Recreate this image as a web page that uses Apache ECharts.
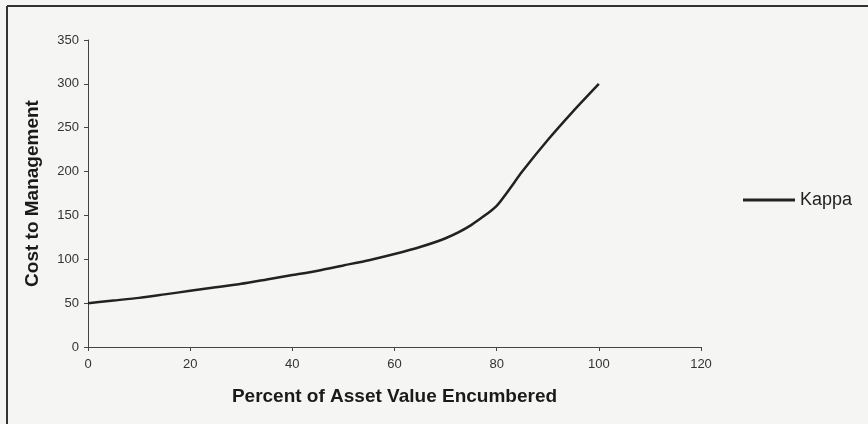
<!DOCTYPE html>
<html>
<head>
<meta charset="utf-8">
<script src="https://cdn.jsdelivr.net/npm/echarts@6/dist/echarts.min.js"></script>
<style>
body { margin: 0; background: #f5f5f3; }
#chart { width: 868px; height: 424px; }
</style>
</head>
<body>
<div id="chart"></div>
<script>
// percent of asset value encumbered
var pct = [0, 5, 10, 15, 20, 25, 30, 35, 40, 45, 50, 55, 60, 65, 70, 75, 80, 85, 90, 95, 100];
// cost to management (Kappa)
var kappa = [50, 53, 56, 60, 64, 68, 72, 77, 82, 87, 93, 99, 106, 114, 124, 139, 161, 200, 236, 269, 300];

var xTicks = [0, 20, 40, 60, 80, 100, 120];
var yTicks = [0, 50, 100, 150, 200, 250, 300, 350];

var pts = [];
for (var i = 0; i < pct.length; i++) {
  pts.push([pct[i], kappa[i]]);
}

var myChart = echarts.init(document.getElementById('chart'));

var option = {
  backgroundColor: '#f5f5f3',
  animation: false,
  textStyle: { fontFamily: 'Liberation Sans, Arial, sans-serif' },
  grid: { left: 88, right: 167, top: 40, bottom: 77 },
  legend: {
    data: ['Kappa'],
    left: 738,
    top: 186,
    itemWidth: 52,
    itemHeight: 3,
    itemGap: 4,
    icon: 'rect',
    textStyle: { fontSize: 18, color: '#222', fontFamily: 'Liberation Sans, Arial, sans-serif' }
  },
  xAxis: {
    type: 'value',
    min: xTicks[0],
    max: xTicks[xTicks.length - 1],
    interval: 20,
    name: 'Percent of Asset Value Encumbered',
    nameLocation: 'middle',
    nameGap: 40,
    nameTextStyle: { fontSize: 19, fontWeight: 'bold', color: '#1a1a1a' },
    axisLine: { lineStyle: { color: '#444', width: 1 } },
    axisTick: { show: true, length: 4, lineStyle: { color: '#444' } },
    axisLabel: { fontSize: 13, color: '#333', margin: 11 },
    splitLine: { show: false }
  },
  yAxis: {
    type: 'value',
    min: yTicks[0],
    max: yTicks[yTicks.length - 1],
    interval: 50,
    name: 'Cost to Management',
    nameLocation: 'middle',
    nameGap: 46,
    nameTextStyle: { fontSize: 19, fontWeight: 'bold', color: '#1a1a1a' },
    axisLine: { show: true, lineStyle: { color: '#444', width: 1 } },
    axisTick: { show: true, length: 4, lineStyle: { color: '#444' } },
    axisLabel: { fontSize: 13, color: '#333', margin: 9 },
    splitLine: { show: false }
  },
  graphic: [
    { type: 'line', shape: { x1: 7, y1: 6, x2: 7, y2: 424 }, style: { stroke: '#333', lineWidth: 2 } },
    { type: 'line', shape: { x1: 7, y1: 6, x2: 868, y2: 6 }, style: { stroke: '#333', lineWidth: 2 } }
  ],
  series: [
    {
      name: 'Kappa',
      type: 'line',
      data: pts,
      smooth: 0.2,
      showSymbol: false,
      lineStyle: { color: '#222', width: 2.5 },
      itemStyle: { color: '#222' }
    }
  ]
};

myChart.setOption(option);
</script>
</body>
</html>
